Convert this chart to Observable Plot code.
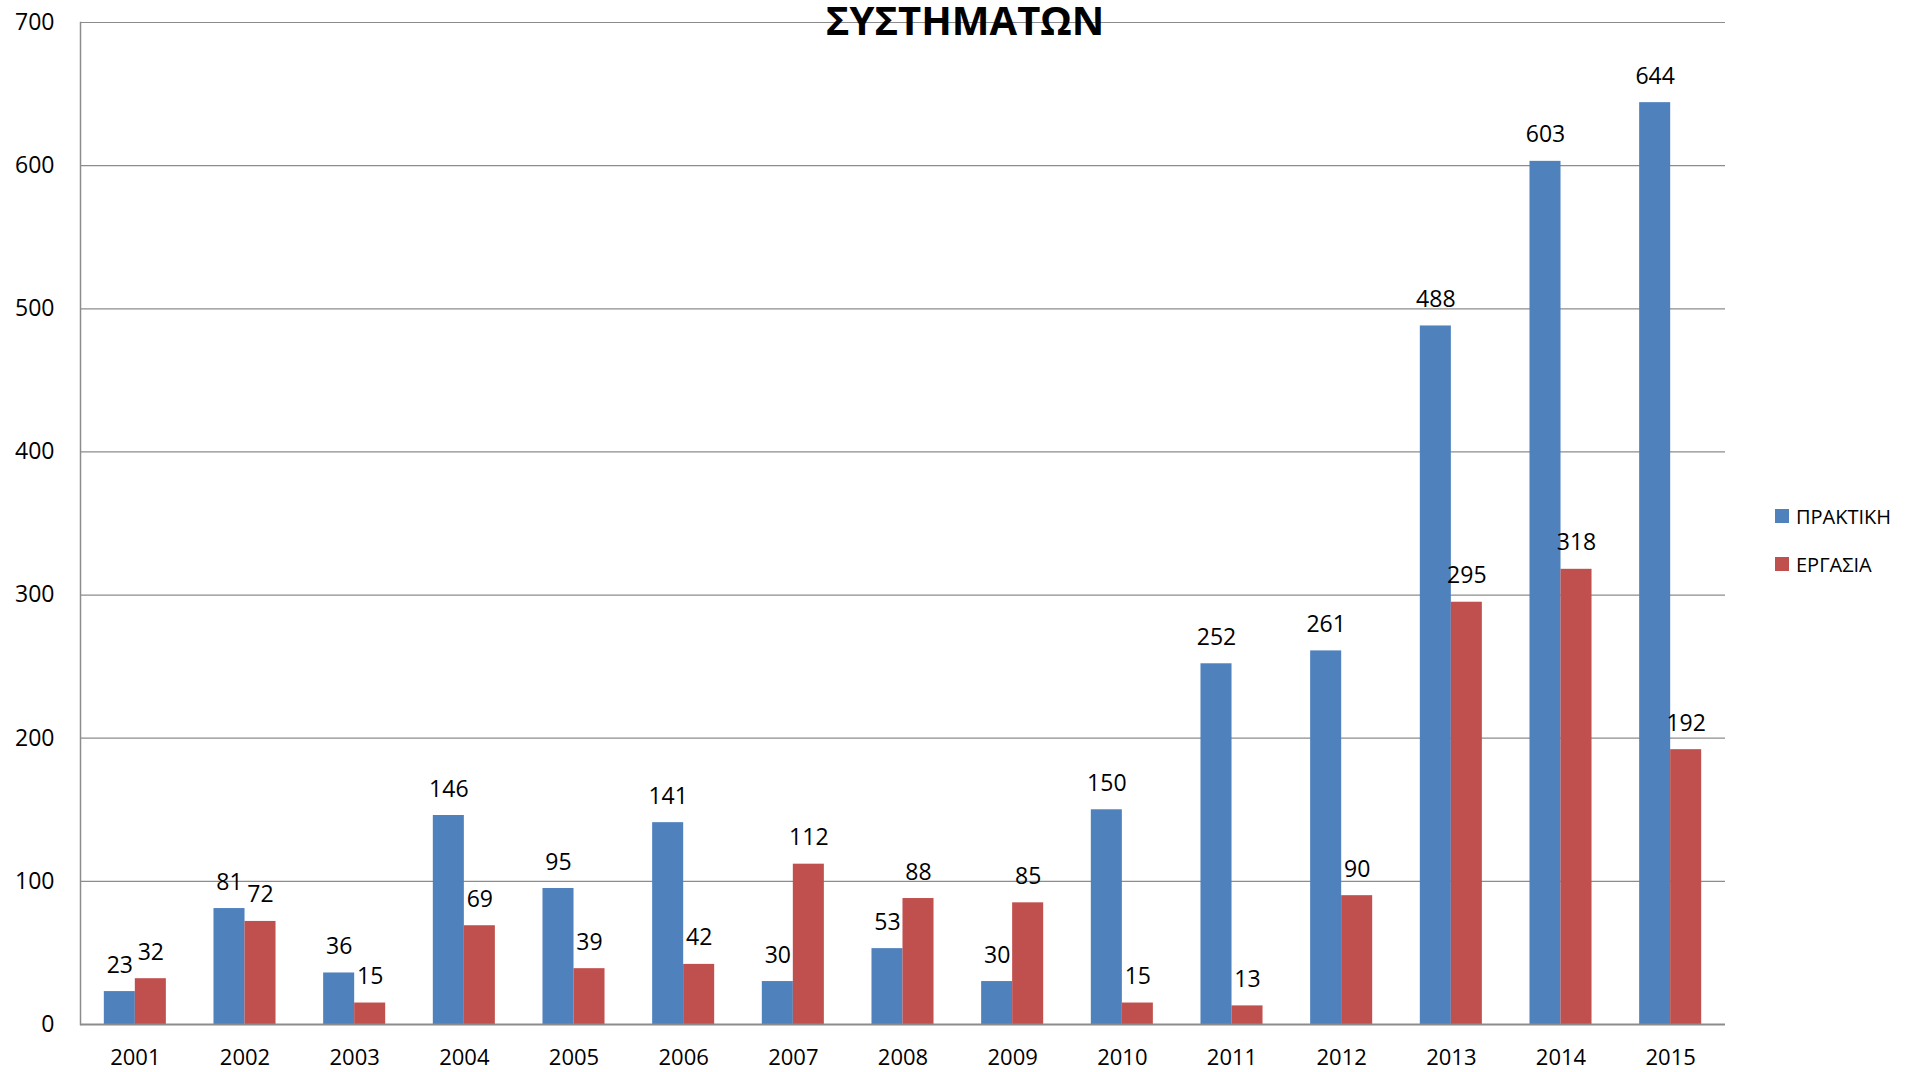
<!DOCTYPE html>
<html>
<head>
<meta charset="utf-8">
<script src="https://cdn.jsdelivr.net/npm/d3@7"></script>
<script src="https://cdn.jsdelivr.net/npm/@observablehq/plot@0.6"></script>
<style>
  body { margin: 0; background: #fff; overflow: hidden; }
  #wrap { position: relative; width: 1915px; height: 1072px; font-family: "Open Sans", sans-serif; }
  #wrap svg { position: absolute; left: 0; top: 0; overflow: visible; }
  #title { position: absolute; left: 0; width: 1930px; top: 0; text-align: center; font-weight: bold; font-size: 40px; line-height: 40px; color: #000; pointer-events: none; }
  .leg { position: absolute; left: 1775px; font-size: 20px; color: #000; display: flex; align-items: center; height: 24px; }
  .leg span.sw { width: 14px; height: 14px; display: inline-block; margin-right: 7px; }
</style>
</head>
<body>
<div id="wrap">
  <div id="title">ΣΥΣΤΗΜΑΤΩΝ</div>
  <div class="leg" style="top:504px"><span class="sw" style="background:#4F81BD"></span>ΠΡΑΚΤΙΚΗ</div>
  <div class="leg" style="top:552px"><span class="sw" style="background:#C0504D"></span>ΕΡΓΑΣΙΑ</div>
</div>
<script>
const years = ["2001","2002","2003","2004","2005","2006","2007","2008","2009","2010","2011","2012","2013","2014","2015"];
const praktiki = [23, 81, 36, 146, 95, 141, 30, 53, 30, 150, 252, 261, 488, 603, 644];
const ergasia  = [32, 72, 15, 69, 39, 42, 112, 88, 85, 15, 13, 90, 295, 318, 192];
const yTicks = [0, 100, 200, 300, 400, 500, 600, 700];

const blue = "#4F81BD", red = "#C0504D";
const dataP = years.map((y, i) => ({year: y, value: praktiki[i]}));
const dataE = years.map((y, i) => ({year: y, value: ergasia[i]}));
const half = 15.5;

const chart = Plot.plot({
  width: 1915,
  height: 1072,
  marginLeft: 80,
  marginRight: 190,
  marginTop: 22,
  marginBottom: 48,
  style: {fontFamily: "Open Sans, sans-serif", fontSize: "23px", color: "#000", background: "transparent", overflow: "visible"},
  x: {domain: years, paddingInner: 0.717, paddingOuter: 0.3585, round: false, label: null},
  y: {domain: [0, 700], label: null},
  marks: [
    Plot.ruleY(yTicks, {stroke: "#8c8c8c", strokeWidth: 1.2}),
    Plot.axisY({ticks: yTicks, tickSize: 0, tickPadding: 26, fontSize: 23, label: null, tickFormat: d => String(d)}),
    Plot.axisX({tickSize: 0, tickPadding: 25, fontSize: 22, label: null}),
    Plot.barY(dataP, {x: "year", y: "value", fill: blue, dx: -half}),
    Plot.barY(dataE, {x: "year", y: "value", fill: red, dx: half}),
    Plot.text(dataP, {x: "year", y: "value", text: d => String(d.value), dx: -half, dy: -19, lineAnchor: "bottom", fontSize: 23, fill: "#000"}),
    Plot.text(dataE, {x: "year", y: "value", text: d => String(d.value), dx: half, dy: -19, lineAnchor: "bottom", fontSize: 23, fill: "#000"}),
    Plot.frame({anchor: "left", stroke: "#8c8c8c", strokeWidth: 1.5}),
    Plot.ruleY([0], {stroke: "#8c8c8c", strokeWidth: 2})
  ]
});
document.getElementById("wrap").insertBefore(chart, document.getElementById("title"));
</script>
</body>
</html>
